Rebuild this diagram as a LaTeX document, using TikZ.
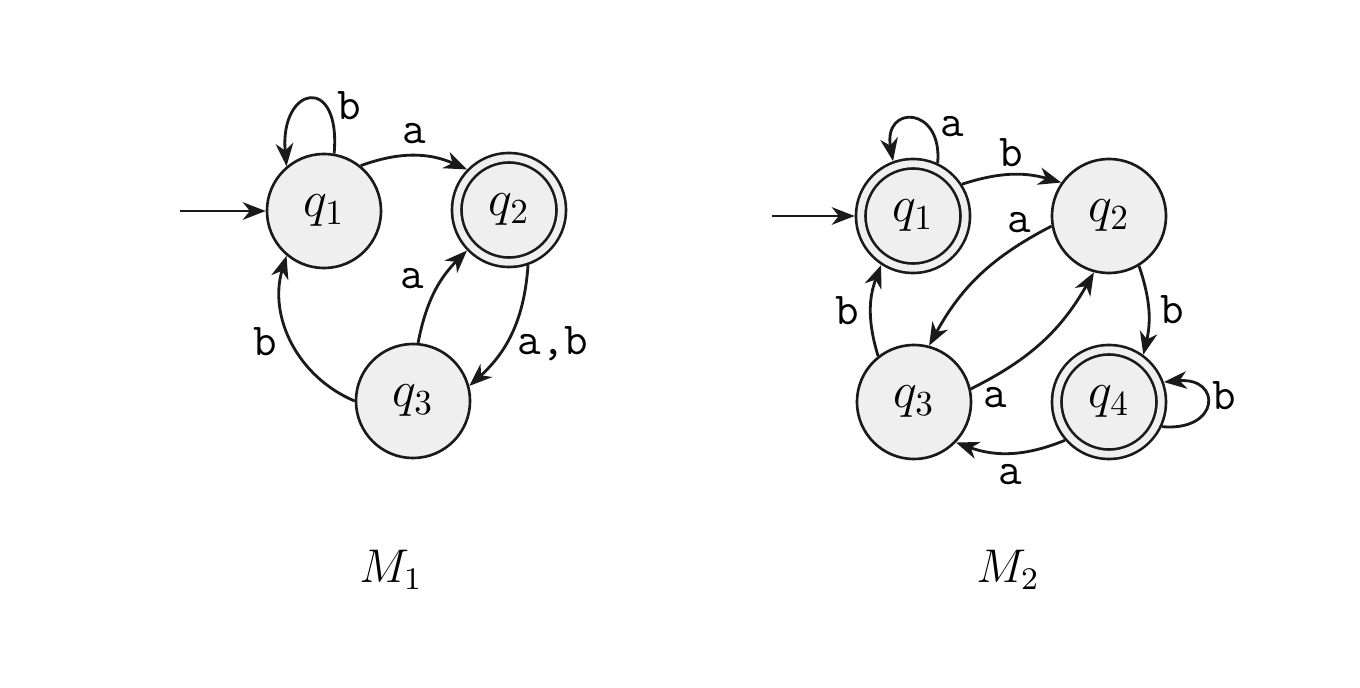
\documentclass[tikz,border=0pt]{standalone}
\usepackage{fontspec}
\usepackage{tikz}
\usetikzlibrary{arrows.meta}
\definecolor{statefill}{HTML}{EFEFEF}
\definecolor{autdark}{HTML}{1A1A1A}
\tikzset{
  state/.style={circle, draw=autdark, fill=statefill, line width=0.75pt,
                minimum size=1.14cm, inner sep=0pt, font=\fontsize{14.4}{17}\selectfont},
  acceptstate/.style={state, minimum size=1.045cm, double=statefill,
                      double distance=0.0685cm, outer sep=0.061cm},
  flow/.style={-{Stealth[length=6.5pt, width=5pt, inset=2pt]}, line width=0.8pt, draw=autdark},
  lbl/.style={font=\fontsize{13}{15}\selectfont\ttfamily, inner sep=3pt},
  mname/.style={font=\fontsize{12}{14}\selectfont, scale=1.12, transform shape},
}

\begin{document}
\begin{tikzpicture}[x=0.01cm, y=0.01cm]
  \fill[white] (0,0) rectangle (1360,-688);
  \useasboundingbox (0,0) rectangle (1360,-688);

  % M1
  \node[state] (m1q1) at (324,-211) {$q_1$};
  \node[acceptstate] (m1q2) at (509,-210) {$q_2$};
  \node[state] (m1q3) at (413,-401) {$q_3$};
  \coordinate (m1init) at (180,-211);
  \node[mname] (m1name) at (391,-570) {$M_1$};

  \draw[flow] (m1init) -- (m1q1);
  \draw[flow] (m1q1.80) to[out=85, in=95, looseness=4.2] node[lbl, pos=0.3, right] {b} (m1q1.130);
  \draw[flow] (m1q1.51) to[bend left=22] node[lbl, above] {a} (m1q2.136);
  \draw[flow] (m1q3.85) to[bend left=17] node[lbl, pos=0.45, above left, inner sep=2pt] {a} (m1q2.224);
  \draw[flow] (m1q2.289) to[bend left=22] node[lbl, pos=0.6, right] {a,b} (m1q3.15);
  \draw[flow] (m1q3.180) to[bend left=42] node[lbl, left, inner sep=4pt] {b} (m1q1.230);

  % M2
  \node[acceptstate] (m2q1) at (913,-216) {$q_1$};
  \node[state] (m2q2) at (1109,-216) {$q_2$};
  \node[state] (m2q3) at (914,-402) {$q_3$};
  \node[acceptstate] (m2q4) at (1109,-402) {$q_4$};
  \coordinate (m2init) at (772,-216);
  \node[mname] (m2name) at (1008,-570) {$M_2$};

  \draw[flow] (m2init) -- (m2q1);
  \draw[flow] (m2q1.65) to[out=85, in=100, looseness=3.3] node[lbl, pos=0.3, right] {a} (m2q1.110);
  \draw[flow] (m2q1.33) to[bend left=17] node[lbl, above, inner sep=2pt] {b} (m2q2.145);
  \draw[flow] (m2q2.190) to[bend right=17] node[lbl, pos=0.2, above] {a} (m2q3.75);
  \draw[flow] (m2q3.13) to[bend right=17] node[lbl, pos=0.15, below] {a} (m2q2.255);
  \draw[flow] (m2q3.128) to[bend left=19] node[lbl, left] {b} (m2q1.237);
  \draw[flow] (m2q2.301) to[bend left=16] node[lbl, right] {b} (m2q4.54);
  \draw[flow] (m2q4.-25) to[out=-5, in=5, looseness=3.35] node[lbl, pos=0.62, right, inner sep=2pt] {b} (m2q4.20);
  \draw[flow] (m2q4.221) to[bend left=21] node[lbl, below] {a} (m2q3.316);
\end{tikzpicture}
\end{document}
